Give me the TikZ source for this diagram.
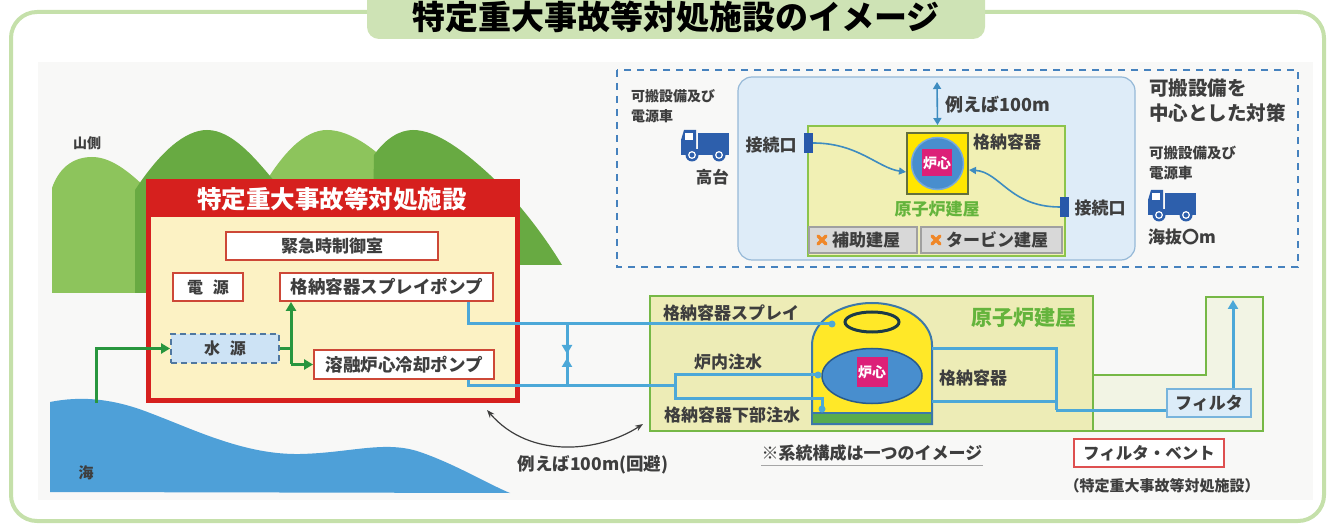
\documentclass[tikz,border=0pt]{standalone}
\usepackage{fontspec}
\setmainfont{Noto Sans CJK JP}
\usetikzlibrary{arrows.meta,shapes.geometric}

\definecolor{frameG}{RGB}{197,224,170}
\definecolor{tabG}{RGB}{206,227,181}
\definecolor{bgGray}{RGB}{248,248,247}
\definecolor{hillL}{RGB}{141,196,92}
\definecolor{hillD}{RGB}{104,170,66}
\definecolor{seaB}{RGB}{78,160,216}
\definecolor{redB}{RGB}{214,32,30}
\definecolor{yelIn}{RGB}{252,242,196}
\definecolor{boxRed}{RGB}{205,72,55}
\definecolor{waterFill}{RGB}{205,227,245}
\definecolor{waterLine}{RGB}{80,120,160}
\definecolor{gl}{RGB}{40,150,62}
\definecolor{pipeB}{RGB}{76,168,216}
\definecolor{bldFill}{RGB}{237,236,182}
\definecolor{bldLine}{RGB}{118,184,70}
\definecolor{stackFill}{RGB}{242,244,228}
\definecolor{filtFill}{RGB}{220,236,248}
\definecolor{filtLine}{RGB}{120,180,220}
\definecolor{ventRed}{RGB}{222,80,80}
\definecolor{domeY}{RGB}{255,232,40}
\definecolor{domeL}{RGB}{60,120,170}
\definecolor{vesB}{RGB}{72,142,206}
\definecolor{vesL}{RGB}{40,90,140}
\definecolor{coreM}{RGB}{220,32,120}
\definecolor{slabG}{RGB}{88,172,78}
\definecolor{dashB}{RGB}{70,130,190}
\definecolor{panelFill}{RGB}{222,236,248}
\definecolor{panelLine}{RGB}{150,185,215}
\definecolor{topBld}{RGB}{241,240,180}
\definecolor{topBldL}{RGB}{140,196,75}
\definecolor{grayBox}{RGB}{216,216,216}
\definecolor{grayLine}{RGB}{160,160,160}
\definecolor{orangeX}{RGB}{240,135,40}
\definecolor{truckB}{RGB}{45,95,172}
\definecolor{connB}{RGB}{40,88,170}
\definecolor{arrB}{RGB}{62,140,192}
\definecolor{txt}{RGB}{62,62,62}
\definecolor{greenTxt}{RGB}{100,180,60}
\definecolor{ringD}{RGB}{28,58,72}
\definecolor{cvLine}{RGB}{100,112,60}
\definecolor{cvFill}{RGB}{255,230,0}
\definecolor{tvesL}{RGB}{120,170,220}

\newcommand{\fsz}[1]{\fontsize{#1}{#1}\selectfont}
\newcommand{\fszl}[2]{\fontsize{#1}{#2}\selectfont}

\tikzset{
  truck/.pic={
    \fill[truckB] (17,3) rectangle (48,22);
    \fill[truckB] (0,10) -- (3,0) -- (15,0) -- (15,24) -- (0,24) -- cycle;
    \fill[white] (4,3) rectangle (12,10);
    \fill[truckB] (0,19) rectangle (48,25);
    \foreach \cx in {11,38} {
      \fill[truckB] (\cx,25) circle (6.5pt);
      \draw[white,line width=1.2pt] (\cx,25) circle (3.3pt);
    }
  },
  xmark/.pic={
    \draw[orangeX,line width=3.4pt,line cap=round] (-4,-4) -- (4,4) (-4,4) -- (4,-4);
  }
}

\begin{document}
\begin{tikzpicture}[x=1pt,y=-1pt,
  lbl/.style={inner sep=0pt,text=txt,font=\bfseries},
  ibox/.style={draw=boxRed,line width=1.8pt,fill=white,inner sep=0pt,text=txt},
  pipe/.style={draw=pipeB,line width=3pt},
  gpipe/.style={draw=gl,line width=3pt},
  tarrow/.style={draw=arrB,line width=1.6pt},
  tip/.style={-{Triangle[length=9pt,width=10pt]}},
  stip/.style={-{Triangle[length=7pt,width=7pt]}}
]
\useasboundingbox (0,0) rectangle (1333,526);

% faint backdrop
\fill[bgGray] (38,62) rectangle (1313,500);

% outer frame and title tab
\draw[frameG,line width=4pt,rounded corners=26pt] (11,12) rectangle (1324,521);
\fill[tabG,rounded corners=12pt] (367,-20) rectangle (985,39);
\node[inner sep=0pt,text=black,font=\fsz{33}\bfseries] (title) at (676,17) {特定重大事故等対処施設のイメージ};

% hills
\fill[hillL] (52,293) -- (52,188) .. controls (60,165) and (76,157) .. (92,157)
  .. controls (110,157) and (128,170) .. (150,192) -- (150,293) -- cycle;
\fill[hillL] (255,265) -- (258,195) .. controls (282,152) and (305,130) .. (327,130)
  .. controls (352,130) and (380,152) .. (405,180) -- (405,265) -- cycle;
\fill[hillD] (135,293) -- (135,190) .. controls (160,152) and (185,130) .. (207,130)
  .. controls (232,130) and (255,158) .. (275,182) -- (275,293) -- cycle;
\fill[hillD] (372,265) -- (374,155) .. controls (386,138) and (400,130) .. (413,130)
  .. controls (437,130) and (465,152) .. (490,175) .. controls (515,198) and (542,232) .. (562,265) -- cycle;
\node[lbl,font=\fsz{14}\bfseries] (mtn) at (87,143) {山側};

% sea
\fill[seaB] (50,492) -- (50,402) .. controls (80,396) and (112,398) .. (150,413)
  .. controls (195,430) and (245,455) .. (300,454) .. controls (350,453) and (385,440) .. (420,452)
  .. controls (455,464) and (488,484) .. (510,493) -- cycle;
\node[lbl,font=\fsz{15}\bfseries] (sea) at (86,473) {海};
\coordinate (seaTap) at (96,403);

% specific serious accident facility
\node[draw=redB,line width=5pt,fill=yelIn,minimum width=369pt,minimum height=218pt,inner sep=0pt] (fac) at (333,291.5) {};
\fill[redB] (146,179) rectangle (520,217);
\node[inner sep=0pt,text=white,font=\fsz{24.5}\bfseries] (facT) at (332,199) {特定重大事故等対処施設};
\node[ibox,minimum width=212pt,minimum height=28pt,font=\fsz{17}\bfseries] (ctrl) at (332,246) {緊急時制御室};
\node[ibox,minimum width=70pt,minimum height=28pt,font=\fsz{16}\bfseries] (power) at (208,287) {電\hspace{0.6em}源};
\node[ibox,minimum width=213pt,minimum height=28pt,font=\fsz{17.5}\bfseries] (sprayPump) at (386.5,287) {格納容器スプレイポンプ};
\node[draw=waterLine,dash pattern=on 6pt off 4pt,line width=1.8pt,fill=waterFill,inner sep=0pt,minimum width=108pt,minimum height=29pt,font=\fsz{16}\bfseries,text=txt] (water) at (225,348.5) {水\hspace{0.6em}源};
\node[ibox,minimum width=180pt,minimum height=29pt,font=\fsz{17.5}\bfseries] (corePump) at (404,364.5) {溶融炉心冷却ポンプ};

% water supply lines
\coordinate (jw) at (291,348.5);
\coordinate (jc) at (291,364.5);
\draw[gpipe,tip] (seaTap) |- (water.west);
\draw[gpipe] (water.east) -- (jw);
\draw[gpipe,tip] (jc) -- (jc |- sprayPump.south);
\draw[gpipe,tip] (jc) -- (corePump.west);

% reactor building (lower)
\fill[stackFill] (1093,375) -- (1206,375) -- (1206,297) -- (1263,297) -- (1263,431) -- (1093,431) -- cycle;
\draw[bldLine,line width=2.5pt] (1093,375) -- (1206,375) -- (1206,297) -- (1263,297) -- (1263,431) -- (1093,431);
\node[draw=bldLine,line width=2.5pt,fill=bldFill,minimum width=443pt,minimum height=135pt,inner sep=0pt] (rb) at (871.5,363.5) {};
\node[inner sep=0pt,text=greenTxt,font=\fsz{21}\bfseries] (rbT) at (1024,318) {原子炉建屋};

% containment vessel
\filldraw[fill=domeY,draw=domeL,line width=2pt] (812,424) -- (812,345)
  arc[start angle=180,end angle=0,x radius=60pt,y radius=42pt] -- (932,424) -- cycle;
\filldraw[fill=slabG,draw=domeL,line width=1.2pt] (812,413) rectangle (932,424);
\draw[draw=ringD,line width=3pt,fill=domeY] (872,322) ellipse [x radius=27pt,y radius=10pt];
\node[ellipse,draw=vesL,line width=1.5pt,fill=vesB,minimum width=100pt,minimum height=55pt,inner sep=0pt] (vessel) at (872,376) {};
\node[fill=coreM,minimum width=31pt,minimum height=30pt,inner sep=0pt,text=white,font=\fsz{14}\bfseries] (core) at (872,372) {炉心};

% pipe ends at the containment
\coordinate (sprayIn) at (832,324);
\coordinate (rpvIn) at (818,375);
\coordinate (padIn) at (822,409);
\coordinate (br) at (675,386);
\coordinate (domeR1) at (932,349);
\coordinate (domeR2) at (932,401);
\coordinate (jf) at (1056,410);

% filter
\node[draw=filtLine,line width=1.8pt,fill=filtFill,minimum width=84pt,minimum height=28pt,inner sep=0pt,text=txt,font=\fsz{17}\bfseries] (filter) at (1209,403) {フィルタ};
\coordinate (stackTop) at (1233,300);

% pipes
\draw[pipe] (sprayPump.south east) ++(-25,0) |- (sprayIn);
\draw[pipe] (corePump.south east) ++(-26,0) |- (br);
\draw[pipe] (br) |- (rpvIn);
\draw[pipe] (br) |- (padIn |- 0,398) -- (padIn);
\fill[pipeB] (sprayIn) circle (3.5pt) (rpvIn) circle (3.5pt) (padIn) circle (3.5pt);
\coordinate (vt) at (567,325);
\coordinate (vb) at (567,386);
\draw[pipe] (vt) -- (vb);
\draw[pipe,tip] (vt) -- (567,354);
\draw[pipe,tip] (vb) -- (567,358);
\draw[pipe] (domeR1) -| (jf);
\draw[pipe] (domeR2) -- (domeR2 -| jf);
\draw[pipe] (jf) -- (filter.west |- jf);
\draw[pipe,tip] (stackTop |- filter.north) -- (stackTop);

% lower labels
\node[lbl,font=\fsz{17}\bfseries] (lSpray) at (731,313) {格納容器スプレイ};
\node[lbl,font=\fsz{17}\bfseries] (lRpv) at (728,362) {炉内注水};
\node[lbl,font=\fsz{17}\bfseries] (lPad) at (732,415) {格納容器下部注水};
\node[lbl,font=\fsz{17}\bfseries] (lCv) at (973,378) {格納容器};
\node[draw=ventRed,line width=1.6pt,fill=white,minimum width=150pt,minimum height=28pt,inner sep=0pt,text=txt,font=\fsz{16.5}\bfseries] (vent) at (1149,453) {フィルタ・ベント};
\node[lbl,font=\fsz{15}\bfseries] (ventS) at (1162,486) {（特定重大事故等対処施設）};
\node[lbl,font=\fsz{17}\bfseries] (note) at (872,453) {※系統構成は一つのイメージ};
\draw[gray!70,line width=1.5pt] ([yshift=-4pt]note.south west) -- ([yshift=-4pt]note.south east);

% distance between facility and reactor building
\coordinate (dA) at (487,410);
\coordinate (dB) at (643,424);
\draw[txt,line width=1.2pt,{Stealth[length=8pt]}-{Stealth[length=8pt]}] (dA) .. controls (530,460) and (600,452) .. (dB);
\node[lbl,font=\fsz{17.5}\bfseries] (dist) at (593,465) {例えば100m(回避)};

% portable equipment measures
\draw[dashB,line width=2pt,dash pattern=on 7pt off 6pt] (617,70) rectangle (1298,267);
\draw[draw=panelLine,fill=panelFill,line width=1.2pt,rounded corners=14pt] (738,77) rectangle (1135,260);
\node[draw=topBldL,line width=2pt,fill=topBld,minimum width=257pt,minimum height=130pt,inner sep=0pt] (tb) at (936.5,191) {};
\node[draw=grayLine,line width=1.2pt,fill=grayBox,minimum width=108pt,minimum height=26pt,inner sep=0pt] (aux) at (863,240) {};
\node[draw=grayLine,line width=1.2pt,fill=grayBox,minimum width=141pt,minimum height=26pt,inner sep=0pt] (tur) at (991.5,240) {};
\pic at (822,240) {xmark};
\pic at (936,240) {xmark};
\node[lbl,font=\fsz{17}\bfseries,anchor=west] (auxT) at (832,240) {補助建屋};
\node[lbl,font=\fsz{17}\bfseries,anchor=west] (turT) at (946,240) {タービン建屋};

\node[draw=cvLine,line width=2pt,fill=cvFill,minimum width=61pt,minimum height=61pt,inner sep=0pt] (tcv) at (937.5,163.5) {};
\node[circle,draw=tvesL,line width=1.5pt,fill=vesB,minimum size=52pt,inner sep=0pt] (tves) at (937.5,163.5) {};
\node[fill=coreM,minimum width=30pt,minimum height=27pt,inner sep=0pt,text=white,font=\fsz{14}\bfseries] (tcore) at (937,163) {炉心};

\node[fill=connB,minimum width=9pt,minimum height=20pt,inner sep=0pt] (connL) at (808.5,143) {};
\node[fill=connB,minimum width=9pt,minimum height=20pt,inner sep=0pt] (connR) at (1064.5,207) {};
\draw[tarrow,stip] (connL.east) .. controls (858,143) and (878,168) .. (tcv.west |- 0,172);
\draw[tarrow,stip] (connR.west) .. controls (1010,207) and (1000,172) .. (tcv.east |- 0,170);
\coordinate (hTop) at (937,82);
\draw[tarrow,{Triangle[length=7pt,width=8pt]}-{Triangle[length=7pt,width=8pt]}] (hTop) -- (tcv.north |- tb.north);

\node[lbl,font=\fsz{17}\bfseries] (connLT) at (771,145) {接続口};
\node[lbl,font=\fsz{17}\bfseries] (connRT) at (1100,208) {接続口};
\node[lbl,font=\fsz{18}\bfseries,anchor=west] (hT) at (945,105) {例えば100m};
\node[lbl,font=\fsz{17}\bfseries,anchor=west] (tcvT) at (973,142) {格納容器};
\node[inner sep=0pt,text=greenTxt,font=\fsz{17}\bfseries] (tbT) at (937,209) {原子炉建屋};

\node[lbl,font=\fszl{14}{20}\bfseries,align=left,anchor=north west] (hiT) at (631,89) {可搬設備及び\\電源車};
\pic at (681,130) {truck};
\node[lbl,font=\fsz{16.5}\bfseries,anchor=east] (hiL) at (729,177) {高台};
\node[lbl,font=\fszl{19.5}{25}\bfseries,align=left,anchor=north west] (focus) at (1149,79) {可搬設備を\\中心とした対策};
\node[lbl,font=\fszl{14.5}{20}\bfseries,align=left,anchor=north west] (loT) at (1149,146) {可搬設備及び\\電源車};
\pic at (1148,190) {truck};
\node[lbl,font=\fsz{17}\bfseries,anchor=west] (loL) at (1148,237) {海抜〇m};
\end{tikzpicture}
\end{document}
